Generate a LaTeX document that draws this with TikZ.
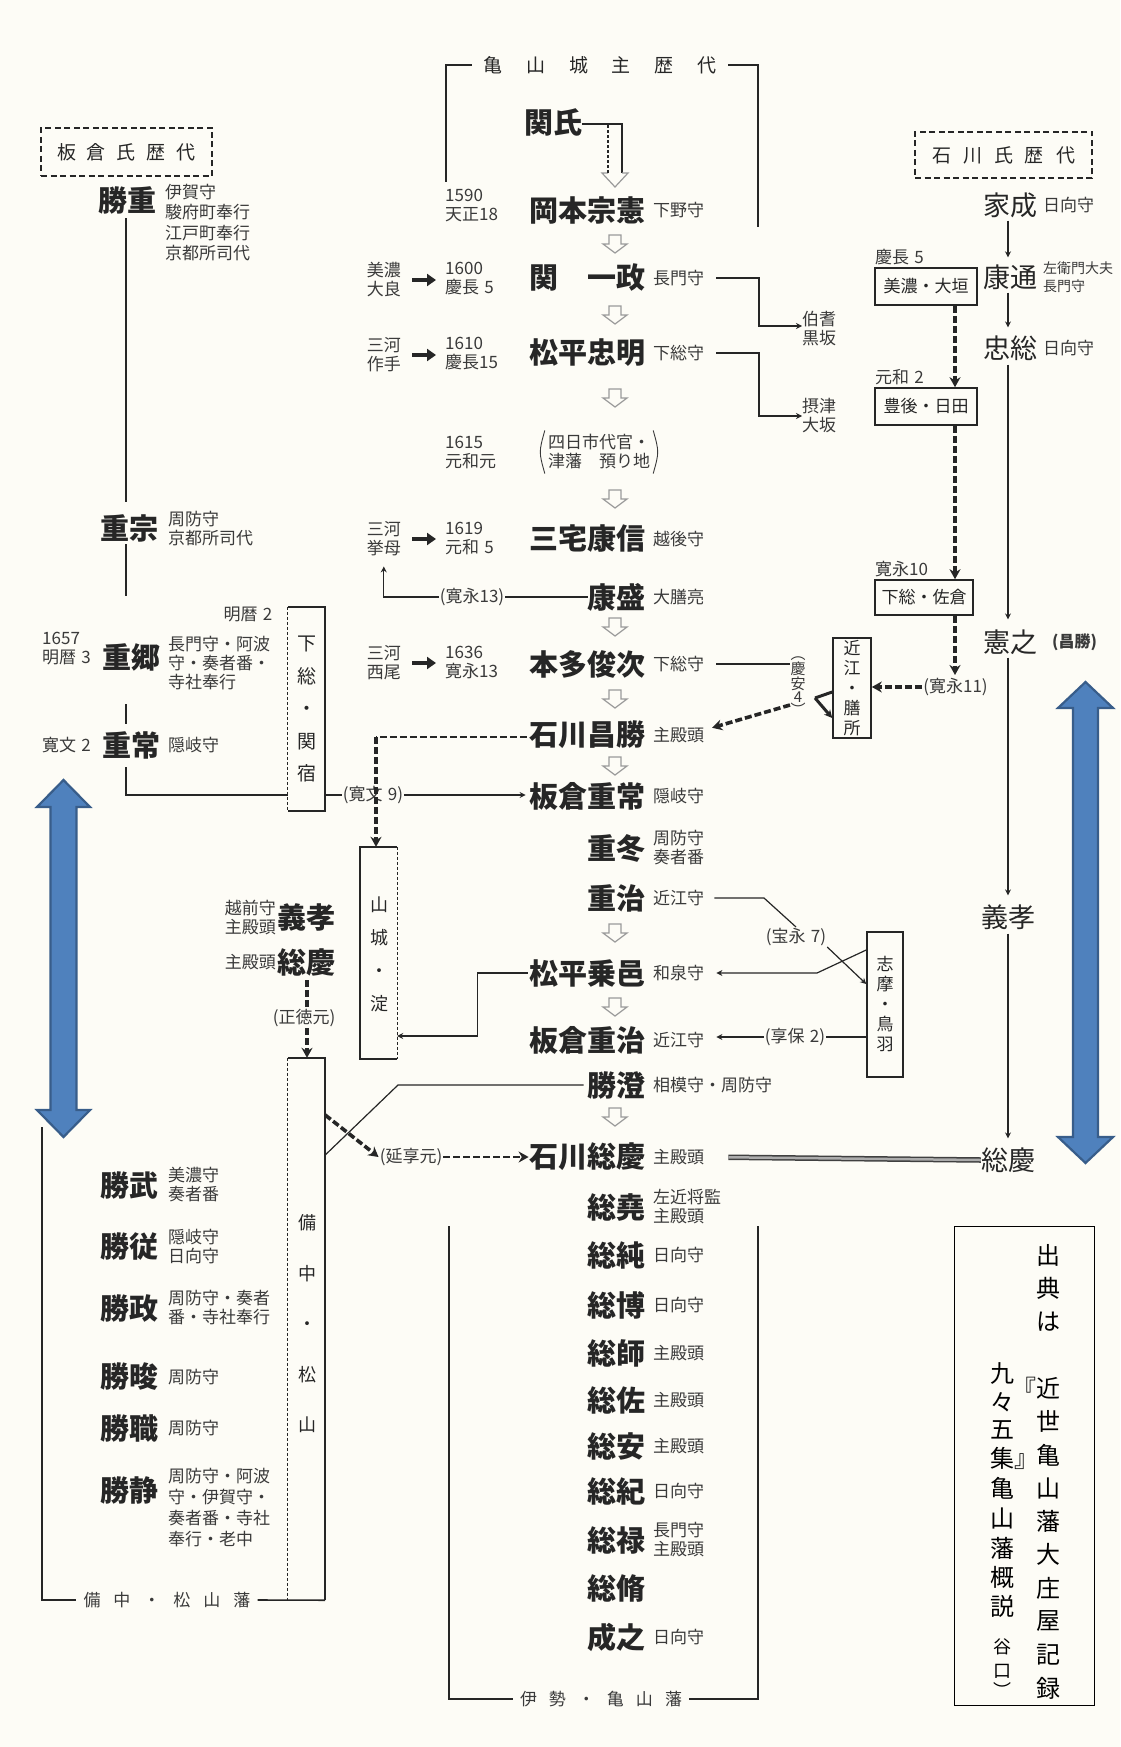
\documentclass[tikz,border=0pt]{standalone}
\usepackage{fontspec}
\newfontfamily\jp{Noto Sans CJK JP}
\usetikzlibrary{arrows.meta,calc}
\definecolor{bg}{HTML}{FDFCF6}
\definecolor{ink}{HTML}{262626}
\definecolor{ink2}{HTML}{3A3A3A}
\definecolor{hol}{HTML}{9A9A9A}
\definecolor{bfill}{HTML}{4F81BD}
\definecolor{bline}{HTML}{385D8A}
\newcommand\fs[2]{\fontsize{#1}{#2}\selectfont}
\newcommand\gsp{\hspace{0.3em}}
\begin{document}
\begin{tikzpicture}[x=1pt,y=-1pt,
  nm/.style={font=\jp\bfseries\fs{29}{31},inner sep=0pt,text=ink},
  nmr/.style={font=\jp\fs{27}{28},inner sep=0pt,text=ink},
  an/.style={font=\jp\fs{17}{19},inner sep=0pt,align=left,text=ink2},
  yr/.style={font=\jp\fs{17}{19},inner sep=0pt,align=left,text=ink2},
  lab/.style={font=\jp\fs{17}{18},inner sep=1pt,text=ink2},
  vt/.style={font=\jp\fs{19}{32.5},inner sep=0pt,align=center,text=ink},
  ln/.style={draw=ink,line width=1.2pt},
  arr/.style={-{Stealth[length=6pt,width=6pt,inset=2pt]}},
  dsh/.style={draw=ink,line width=4.2pt,dash pattern=on 7pt off 3pt},
  dshm/.style={draw=ink,line width=2.6pt,dash pattern=on 7pt off 3pt},
  darr/.style={-{Stealth[length=10pt,width=11pt]}},
  barr/.style={draw=ink,line width=3.6pt,-{Triangle[length=9pt,width=12pt]},shorten <=11pt,shorten >=9pt},
  bx/.style={draw=ink,line width=1.6pt,inner sep=0pt},
  hdbox/.style={draw=ink,line width=2.2pt,dash pattern=on 6pt off 3.5pt,inner sep=0pt,font=\jp\fs{19}{20},text=ink},
  ct/.style={font=\jp\fs{24}{26},inner sep=0pt,text=black},
  hollow/.pic={\draw[hol,line width=1.2pt] (-6,0) -- (6,0) -- (6,9) -- (12,9) -- (0,18) -- (-12,9) -- (-6,9) -- cycle;}
]
\fill[bg] (0,0) rectangle (1120,1747);
\useasboundingbox (0,0) rectangle (1120,1747);

% ---------------- header of middle column
\node[font=\jp\fs{19}{20},text=ink,inner sep=0pt] (hdr) at (600,65) {亀\hspace{24pt}山\hspace{24pt}城\hspace{24pt}主\hspace{24pt}歴\hspace{24pt}代};
\draw[ln,line width=1.6pt] (446,182) |- ($(hdr.west)+(-11,0)$);
\draw[ln,line width=1.6pt] ($(hdr.east)+(11,0)$) -| (758,227);

% ---------------- middle column names
\node[nm,anchor=west] (seki) at (524,122) {関氏};
\node[nm,anchor=east] (okamoto) at (646,210) {岡本宗憲};
\node[an,anchor=west] (okamoto-a) at (653,210) {下野守};
\node[nm,anchor=east] (kazumasa) at (646,278) {関　一政};
\node[an,anchor=west] (kazumasa-a) at (653,278) {長門守};
\node[nm,anchor=east] (tadaakira) at (646,353) {松平忠明};
\node[an,anchor=west] (tadaakira-a) at (653,353) {下総守};
\node[font=\jp\fs{17}{19},text=ink2,align=center,inner sep=0pt] (azukari) at (599,452) {四日市代官・\\津藩　預り地};
\draw[ink2,line width=0.9pt] ($(azukari.north west)+(-3,-4)$) .. controls ($(azukari.west)+(-9,0)$) .. ($(azukari.south west)+(-3,4)$);
\draw[ink2,line width=0.9pt] ($(azukari.north east)+(3,-4)$) .. controls ($(azukari.east)+(9,0)$) .. ($(azukari.south east)+(3,4)$);
\node[nm,anchor=east] (miyake) at (646,539) {三宅康信};
\node[an,anchor=west] (miyake-a) at (653,539) {越後守};
\node[nm,anchor=east] (yasumori) at (646,597) {康盛};
\node[an,anchor=west] (yasumori-a) at (653,597) {大膳亮};
\node[nm,anchor=east] (toshitsugu) at (646,664) {本多俊次};
\node[an,anchor=west] (toshitsugu-a) at (653,664) {下総守};
\node[nm,anchor=east] (masakatsu) at (646,735) {石川昌勝};
\node[an,anchor=west] (masakatsu-a) at (653,735) {主殿頭};
\node[nm,anchor=east] (shigetsuneM) at (646,796) {板倉重常};
\node[an,anchor=west] (shigetsuneM-a) at (653,796) {隠岐守};
\node[nm,anchor=east] (shigefuyu) at (646,848) {重冬};
\node[an,anchor=west] (shigefuyu-a) at (653,848) {周防守\\奏者番};
\node[nm,anchor=east] (shigeharu) at (646,898) {重治};
\node[an,anchor=west] (shigeharu-a) at (653,898) {近江守};
\node[nm,anchor=east] (norisato) at (646,973) {松平乗邑};
\node[an,anchor=west] (norisato-a) at (653,973) {和泉守};
\node[nm,anchor=east] (shigeharuM) at (646,1040) {板倉重治};
\node[an,anchor=west] (shigeharuM-a) at (653,1040) {近江守};
\node[nm,anchor=east] (katsuzumi) at (646,1085) {勝澄};
\node[an,anchor=west] (katsuzumi-a) at (653,1085) {相模守・周防守};
\node[nm,anchor=east] (fusayoshi) at (646,1157) {石川総慶};
\node[an,anchor=west] (fusayoshi-a) at (653,1157) {主殿頭};
\node[nm,anchor=east] (fusataka) at (646,1207) {総堯};
\node[an,anchor=west] (fusataka-a) at (653,1207) {左近将監\\主殿頭};
\node[nm,anchor=east] (fusazumi) at (646,1255) {総純};
\node[an,anchor=west] (fusazumi-a) at (653,1255) {日向守};
\node[nm,anchor=east] (fusahiro) at (646,1305) {総博};
\node[an,anchor=west] (fusahiro-a) at (653,1305) {日向守};
\node[nm,anchor=east] (fusamoro) at (646,1353) {総師};
\node[an,anchor=west] (fusamoro-a) at (653,1353) {主殿頭};
\node[nm,anchor=east] (fusasuke) at (646,1400) {総佐};
\node[an,anchor=west] (fusasuke-a) at (653,1400) {主殿頭};
\node[nm,anchor=east] (fusayasu) at (646,1446) {総安};
\node[an,anchor=west] (fusayasu-a) at (653,1446) {主殿頭};
\node[nm,anchor=east] (fusanori) at (646,1491) {総紀};
\node[an,anchor=west] (fusanori-a) at (653,1491) {日向守};
\node[nm,anchor=east] (fusayoshiB) at (646,1540) {総禄};
\node[an,anchor=west] (fusayoshiB-a) at (653,1540) {長門守\\主殿頭};
\node[nm,anchor=east] (fusanaga) at (646,1588) {総脩};
\node[nm,anchor=east] (nariyuki) at (646,1637) {成之};
\node[an,anchor=west] (nariyuki-a) at (653,1637) {日向守};

% bottom bracket of middle column
\node[font=\jp\fs{17}{18},text=ink2,inner sep=0pt] (ise) at (601,1699) {伊\hspace{12pt}勢\hspace{12pt}・\hspace{12pt}亀\hspace{12pt}山\hspace{12pt}藩};
\draw[ln,line width=1.6pt] (449,1226) |- ($(ise.west)+(-7,0)$);
\draw[ln,line width=1.6pt] ($(ise.east)+(7,0)$) -| (758,1226);

% hollow succession arrows
\draw[ln] (seki.east |- 0,124) -- (622,124) -- (622,173);
\draw[hol,line width=1.2pt] (622,173) -- (628,173) -- (615,187) -- (602,173) -- (608,173);
\draw[ink,line width=1.1pt,dash pattern=on 3pt off 2pt] (608,173) -- (608,124);
\foreach \yy in {235,306,389,490,618,690,757,924,998,1108}
  \pic at (615,\yy) {hollow};

% year labels and origins
\node[yr,anchor=west] (y1590) at (445,206) {1590\\天正18};
\node[yr,anchor=west] (y1600) at (445,279) {1600\\慶長\gsp 5};
\node[yr,anchor=west] (y1610) at (445,354) {1610\\慶長15};
\node[yr,anchor=west] (y1615) at (445,452) {1615\\元和元};
\node[yr,anchor=west] (y1619) at (445,538) {1619\\元和\gsp 5};
\node[yr,anchor=west] (y1636) at (445,663) {1636\\寛永13};
\node[yr,anchor=east] (mino) at (401,280) {美濃\\大良};
\node[yr,anchor=east] (tsukude) at (401,355) {三河\\作手};
\node[yr,anchor=east] (koromo) at (401,539) {三河\\挙母};
\node[yr,anchor=east] (nishio) at (401,663) {三河\\西尾};
\draw[barr] (mino.east) -- (mino.east -| y1600.west);
\draw[barr] (tsukude.east) -- (tsukude.east -| y1610.west);
\draw[barr] (koromo.east) -- (koromo.east -| y1619.west);
\draw[barr] (nishio.east) -- (nishio.east -| y1636.west);

% transfers out
\node[yr,anchor=west] (hoki) at (802,329) {伯耆\\黒坂};
\node[yr,anchor=west] (settsu) at (802,416) {摂津\\大坂};
\draw[ln,line width=1.6pt,arr,shorten <=12pt] (kazumasa-a.east) -| (759,326) -- (hoki.west |- 0,326);
\draw[ln,line width=1.6pt,arr,shorten <=12pt] (tadaakira-a.east) -| (759,416) -- (settsu.west);

\node[lab] (kanei13) at (472,597) {(寛永13)};
\draw[ln] (yasumori.west) -- (kanei13.east);
\draw[ln,arr,shorten >=10pt] (kanei13.west) -| (koromo.south);

% ---------------- left column (Itakura)
\node[hdbox,minimum width=171pt,minimum height=48pt] (itakura-h) at (126.5,152) {板\hspace{11pt}倉\hspace{11pt}氏\hspace{11pt}歴\hspace{11pt}代};
\coordinate (lx) at (126,0);
\node[nm,anchor=west] (katsushige) at (98,200) {勝重};
\node[an,anchor=north west,font=\jp\fs{17}{20.5}] (katsushige-a) at (165,184) {伊賀守\\駿府町奉行\\江戸町奉行\\京都所司代};
\node[nm,anchor=west] (shigemune) at (100,528) {重宗};
\node[an,anchor=west] (shigemune-a) at (168,529) {周防守\\京都所司代};
\node[yr] (meireki2) at (248,614) {明暦\gsp 2};
\node[yr,anchor=west] (y1657) at (42,649) {1657\\明暦\gsp 3};
\node[nm,anchor=west] (shigesato) at (102,657) {重郷};
\node[an,anchor=north west] (shigesato-a) at (168,636) {長門守・阿波\\守・奏者番・\\寺社奉行};
\node[yr,anchor=west] (kanbun2) at (42,745) {寛文\gsp 2};
\node[nm,anchor=west] (shigetsune) at (102,745) {重常};
\node[an,anchor=west] (shigetsune-a) at (168,745) {隠岐守};
\draw[ln,shorten <=4pt,shorten >=12pt] (katsushige.south -| lx) -- (shigemune.north -| lx);
\draw[ln,shorten <=2pt] (shigemune.south -| lx) -- ++(0,54);
\draw[ln,shorten <=33pt,shorten >=7pt] (shigesato.south -| lx) -- (shigetsune.north -| lx);

% Shimosa Sekiyado box
\node[minimum width=37pt,minimum height=204pt,inner sep=0pt] (sekiyado) at (306.5,709) {};
\draw[ln,line width=1.6pt] (sekiyado.north west) -- (sekiyado.north east) -- (sekiyado.south east) -- (sekiyado.south west);
\draw[ink,line width=1.3pt,dash pattern=on 3pt off 2pt] (sekiyado.north west) -- (sekiyado.south west);
\node[vt] (sekiyado-t) at (307,709) {下\\総\\・\\関\\宿};

\node[lab] (kanbun9) at (373,795) {(寛文\gsp 9)};
\draw[ln,shorten <=8pt] (shigetsune.south -| lx) |- (sekiyado.west |- kanbun9);
\draw[ln] (sekiyado.east |- kanbun9) -- (kanbun9.west);
\draw[ln,arr,shorten >=4pt] (kanbun9.east) -- (kanbun9.east -| shigetsuneM.west);

% Yamashiro Yodo box
\node[minimum width=37pt,minimum height=212pt,inner sep=0pt] (yodo) at (378.5,953) {};
\draw[ln,line width=1.6pt] (yodo.north east) -- (yodo.north west) -- (yodo.south west) -- (yodo.south east);
\draw[ink,line width=1.3pt,dash pattern=on 3pt off 2pt] (yodo.north east) -- (yodo.south east);
\node[vt,font=\jp\fs{18}{33}] (yodo-t) at (379,954) {山\\城\\・\\淀};
\coordinate (mk) at (376,737);
\draw[dshm,shorten <=3pt] (masakatsu.west |- mk) -- (mk);
\draw[dsh,darr] (mk) -- (yodo.north -| mk);
\coordinate (ny) at (0,1036);
\draw[ln,line width=1.6pt,arr,shorten <=2pt] (norisato.west) -- ++(-52,0) |- (yodo.east |- ny);

% Yoshitaka / Fusayoshi left
\node[nm,anchor=east] (yoshitakaL) at (336,917) {義孝};
\node[an,anchor=east] (yoshitakaL-a) at (276,917) {越前守\\主殿頭};
\node[nm,anchor=east] (fusayoshiL) at (336,962) {総慶};
\node[an,anchor=east] (fusayoshiL-a) at (276,962) {主殿頭};
\node[lab] (shotoku) at (304,1018) {(正徳元)};
\coordinate (mx) at (307,0);

% Bitchu Matsuyama box
\node[minimum width=37pt,minimum height=542pt,inner sep=0pt] (matsuyama) at (306.5,1329) {};
\draw[ln,line width=1.6pt] (matsuyama.north west) -- (matsuyama.north east) -- (matsuyama.south east);
\draw[ink,line width=1.3pt,dash pattern=on 3pt off 2pt] (matsuyama.north west) -- (matsuyama.south west);
\node[vt,font=\jp\fs{18}{50.5}] (matsuyama-t) at (307,1324) {備\\中\\・\\松\\山};
\draw[dsh,shorten <=4pt] (fusayoshiL.south -| mx) -- (shotoku.north -| mx);
\draw[dsh,darr] (shotoku.south -| mx) -- (matsuyama.north -| mx);

\node[font=\jp\fs{17}{18},text=ink2,inner sep=0pt] (bm) at (167,1600) {備\hspace{13pt}中\hspace{13pt}・\hspace{13pt}松\hspace{13pt}山\hspace{13pt}藩};
\draw[ln,line width=1.6pt] (42,1127) |- ($(bm.west)+(-7,0)$);
\draw[ln,line width=1.6pt] ($(bm.east)+(7,0)$) -- (matsuyama.south east);

\node[nm,anchor=west] (katsutake) at (100,1185) {勝武};
\node[an,anchor=west] (katsutake-a) at (168,1185) {美濃守\\奏者番};
\node[nm,anchor=west] (katsutsugu) at (100,1247) {勝従};
\node[an,anchor=west] (katsutsugu-a) at (168,1247) {隠岐守\\日向守};
\node[nm,anchor=west] (katsumasa) at (100,1308) {勝政};
\node[an,anchor=west] (katsumasa-a) at (168,1308) {周防守・奏者\\番・寺社奉行};
\node[nm,anchor=west] (katsuaki) at (100,1377) {勝晙};
\node[an,anchor=west] (katsuaki-a) at (168,1377) {周防守};
\node[nm,anchor=west] (katsumoto) at (100,1428) {勝職};
\node[an,anchor=west] (katsumoto-a) at (168,1428) {周防守};
\node[nm,anchor=west] (katsukiyo) at (100,1490) {勝静};
\node[an,anchor=north west,font=\jp\fs{17}{21}] (katsukiyo-a) at (168,1468) {周防守・阿波\\守・伊賀守・\\奏者番・寺社\\奉行・老中};

% Katsuzumi / Enkyo
\coordinate (kz) at (398,1085);
\coordinate (m1) at (0,1155);
\coordinate (m2) at (0,1115);
\draw[ln,shorten <=4pt] (katsuzumi.west) -- (kz) -- (matsuyama.east |- m1);
\node[lab] (enkyo) at (411,1157) {(延享元)};
\draw[dsh,darr,line width=3.6pt] (matsuyama.east |- m2) -- (enkyo.west);
\draw[dshm,darr,shorten >=1pt] (enkyo.east) -- (fusayoshi.west);

% ---------------- right column (Ishikawa)
\node[hdbox,minimum width=177pt,minimum height=46pt] (ishikawa-h) at (1003.5,155) {石\hspace{12pt}川\hspace{12pt}氏\hspace{12pt}歴\hspace{12pt}代};
\node[nmr] (ienari) at (1010,205) {家成};
\node[an,anchor=west] (ienari-a) at (1043,205) {日向守};
\node[nmr] (yasumichi) at (1010,277) {康通};
\node[an,anchor=west,font=\jp\fs{14}{18}] (yasumichi-a) at (1043,277) {左衛門大夫\\長門守};
\node[nmr] (tadafusa) at (1010,348) {忠総};
\node[an,anchor=west] (tadafusa-a) at (1043,348) {日向守};
\node[nmr] (noriyuki) at (1010,642) {憲之};
\node[an,anchor=west,font=\jp\bfseries\fs{16}{17}] (noriyuki-a) at (1052,642) {(昌勝)};
\node[nmr] (yoshitakaR) at (1008,917) {義孝};
\node[nmr] (fusayoshiR) at (1008,1160) {総慶};
\coordinate (rl) at (1008,0);
\draw[ln,arr,shorten <=3pt,shorten >=7pt] (ienari.south -| rl) -- (yasumichi.north -| rl);
\draw[ln,arr,shorten <=3pt,shorten >=8pt] (yasumichi.south -| rl) -- (tadafusa.north -| rl);
\draw[ln,arr,shorten <=4pt,shorten >=10pt] (tadafusa.south -| rl) -- (noriyuki.north -| rl);
\draw[ln,arr,shorten <=3pt,shorten >=9pt] (noriyuki.south -| rl) -- (yoshitakaR.north -| rl);
\draw[ln,arr,shorten <=4pt,shorten >=9pt] (yoshitakaR.south -| rl) -- (fusayoshiR.north -| rl);

\node[bx,minimum width=102pt,minimum height=37pt,font=\jp\fs{17}{18},text=ink] (ogaki) at (926,286.5) {美濃・大垣};
\node[bx,minimum width=102pt,minimum height=37pt,font=\jp\fs{17}{18},text=ink] (hita) at (926,406.5) {豊後・日田};
\node[bx,minimum width=98pt,minimum height=35pt,font=\jp\fs{17}{18},text=ink] (sakura) at (924,597.5) {下総・佐倉};
\node[yr,anchor=south west] (keicho5) at (875,265) {慶長\gsp 5};
\node[yr,anchor=south west] (genna2) at (875,385) {元和\gsp 2};
\node[yr,anchor=south west] (kanei10) at (875,577) {寛永10};
\coordinate (rx) at (955,0);
\draw[dsh,darr] (ogaki.south -| rx) -- (hita.north -| rx);
\draw[dsh,darr] (hita.south -| rx) -- (sakura.north -| rx);
\node[lab] (kanei11) at (955.5,687) {(寛永11)};
\draw[dsh,darr,shorten >=2pt] (sakura.south -| rx) -- (kanei11.north -| rx);

\node[bx,minimum width=38pt,minimum height=100pt] (zeze) at (852,688) {};
\node[vt,font=\jp\fs{17}{20}] (zeze-t) at (852,688) {近\\江\\・\\膳\\所};
\draw[dsh,darr,line width=3.6pt] (kanei11.west) -- (zeze.east |- kanei11.west);

\node[font=\jp\fs{15}{13},text=ink2,align=center,inner sep=0pt] (keian) at (798,686) {︵\\慶\\安\\4\\︶};
\draw[ln,shorten <=12pt] (toshitsugu-a.east) -- (toshitsugu-a.east -| keian.west);
\coordinate (apex) at (815,698);
\draw[ink,line width=3pt] ($(zeze.west)+(0,4)$) -- (apex);
\draw[ink,line width=3pt,-{Stealth[length=8pt,width=8pt]}] (apex) -- ($(zeze.west)+(0,30)$);
\coordinate (kb) at (790,705);
\draw[dsh,darr,line width=3.6pt,shorten >=8pt] (kb) -- (masakatsu-a.east |- 0,730);

% Shima Toba
\node[minimum width=36pt,minimum height=145pt,bx] (toba) at (885,1004.5) {};
\node[vt,font=\jp\fs{17}{20}] (toba-t) at (885,1004) {志\\摩\\・\\鳥\\羽};
\node[lab] (hoei7) at (796,937) {(宝永\gsp 7)};
\node[lab] (kyoho2) at (795,1037) {(享保\gsp 2)};
\draw[ln,shorten <=10pt] (shigeharu-a.east) -- (764,898) -- (hoei7.north);
\draw[ln,arr] (hoei7.south east) -- (toba.west |- 0,984);
\draw[ln,arr,shorten >=12pt] (toba.west |- 0,950) -- (817,973) -- (norisato-a.east);
\draw[ln] (toba.west |- kyoho2) -- (kyoho2.east);
\draw[ln,arr,shorten >=12pt] (kyoho2.west) -- (kyoho2.west -| shigeharuM-a.east);

% Ishikawa Fusayoshi double line
\draw[draw=black!75,line width=1.5pt,double=gray!65,double distance=2.5pt,shorten <=24pt] (fusayoshi-a.east) -- (fusayoshiR.west);

% ---------------- citation box
\node[draw=black,line width=1pt,minimum width=140pt,minimum height=479pt,inner sep=0pt] (cite) at (1024,1465.5) {};
\foreach \c [count=\i] in {出,典,は,{},{\llap{『}近},世,亀,山,藩,大,庄,屋,記,録}
  \node[ct] (ca\i) at (1048,{1255+33.3*(\i-1)}) {\c};
\foreach \c/\yy [count=\i] in {九/1373,々/1402,五/1430,{集\rlap{』}}/1458,亀/1488,山/1518,藩/1548,概/1577,説/1606}
  \node[ct] (cb\i) at (1002,\yy) {\c};
\node[ct,font=\jp\fs{18}{20}] (cc1) at (1002,1647) {谷};
\node[ct,font=\jp\fs{18}{20}] (cc2) at (1002,1671) {口};
\node[ct,font=\jp\fs{18}{20}] (cc3) at (1002,1690) {︶};

% ---------------- blue double arrows
\draw[bline,line width=2.2pt,fill=bfill,line join=miter]
  (63.5,780) -- (90,807) -- (76.5,807) -- (76.5,1110) -- (90,1110) -- (63.5,1137)
  -- (37,1110) -- (50.5,1110) -- (50.5,807) -- (37,807) -- cycle;
\draw[bline,line width=2.2pt,fill=bfill,line join=miter]
  (1085.5,682) -- (1113,708) -- (1098,708) -- (1098,1137) -- (1113,1137) -- (1085.5,1163)
  -- (1058,1137) -- (1073,1137) -- (1073,708) -- (1058,708) -- cycle;
\end{tikzpicture}
\end{document}
